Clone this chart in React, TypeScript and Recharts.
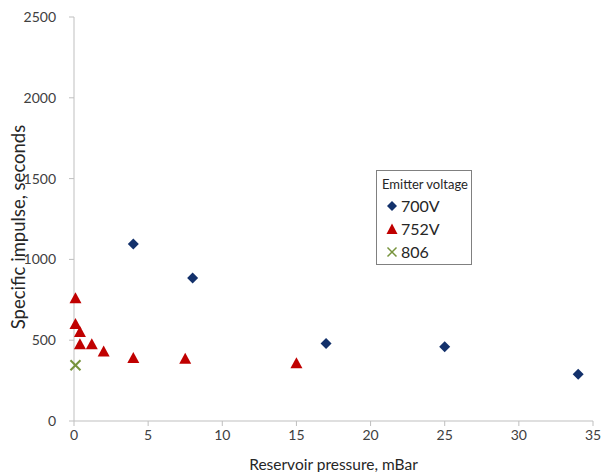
import { Label, Scatter, ScatterChart, XAxis, YAxis } from "recharts";

// Reservoir pressure (mBar) vs specific impulse (s), by emitter voltage
const pressure700 = [4, 8, 17, 25, 34];
const isp700 = [1095, 885, 480, 460, 290];

const pressure752 = [0.1, 0.1, 0.4, 0.4, 1.2, 2, 4, 7.5, 15];
const isp752 = [760, 600, 550, 475, 475, 430, 390, 385, 358];

const pressure806 = [0.1];
const isp806 = [345];

const xTicks = [0, 5, 10, 15, 20, 25, 30, 35];
const yTicks = [0, 500, 1000, 1500, 2000, 2500];

const NAVY = "#13316b";
const RED = "#c00000";
const GREEN = "#77933c";
const AXIS = "#bfbfbf";
const FONT = "Lato, 'Open Sans', sans-serif";

const zip = (xs: number[], ys: number[]) => xs.map((x, i) => ({ x, y: ys[i] }));

const Diamond = ({ cx, cy }: any) => (
  <polygon points={`${cx},${cy - 5.5} ${cx + 5.5},${cy} ${cx},${cy + 5.5} ${cx - 5.5},${cy}`} fill={NAVY} />
);

const Triangle = ({ cx, cy }: any) => (
  <polygon points={`${cx},${cy - 6} ${cx + 6},${cy + 5} ${cx - 6},${cy + 5}`} fill={RED} />
);

const Cross = ({ cx, cy }: any) => (
  <g stroke={GREEN} strokeWidth={2}>
    <line x1={cx - 5} y1={cy - 5} x2={cx + 5} y2={cy + 5} />
    <line x1={cx - 5} y1={cy + 5} x2={cx + 5} y2={cy - 5} />
  </g>
);

const LegendBox = () => {
  const items = [
    { name: "700V", shape: <polygon points="6,1 11,6 6,11 1,6" fill={NAVY} /> },
    { name: "752V", shape: <polygon points="6,0.5 11.5,11 0.5,11" fill={RED} /> },
    {
      name: "806",
      shape: (
        <g stroke={GREEN} strokeWidth={1.5}>
          <line x1={1.5} y1={1.5} x2={10.5} y2={10.5} />
          <line x1={1.5} y1={10.5} x2={10.5} y2={1.5} />
        </g>
      ),
    },
  ];
  return (
    <div
      style={{
        position: "absolute",
        left: 376,
        top: 170,
        border: "1px solid #808080",
        background: "#fff",
        width: 96,
        height: 95,
        boxSizing: "border-box",
        padding: "4px 0 0 5px",
        fontFamily: FONT,
        color: "#262626",
        whiteSpace: "nowrap",
      }}
    >
      <div style={{ fontSize: 13, lineHeight: "19px" }}>Emitter voltage</div>
      {items.map((it) => (
        <div key={it.name} style={{ display: "flex", alignItems: "center", paddingLeft: 4, height: 23 }}>
          <svg width={12} height={12} style={{ marginRight: 3 }}>
            {it.shape}
          </svg>
          <span style={{ fontSize: 16 }}>{it.name}</span>
        </div>
      ))}
    </div>
  );
};

export default function App() {
  return (
    <div style={{ position: "absolute", left: 0, top: 0, width: 601, height: 472, background: "#fff" }}>
      <ScatterChart width={601} height={472} margin={{ top: 17, right: 8, bottom: 0, left: 0 }}>
        <XAxis
          type="number"
          dataKey="x"
          domain={[0, 35]}
          ticks={xTicks}
          height={51}
          stroke={AXIS}
          tickSize={5}
          tickMargin={4}
          tick={{ fontSize: 14, fill: "#404040", fontFamily: FONT }}
        >
          <Label
            value="Reservoir pressure, mBar"
            position="insideBottom"
            offset={2}
            style={{ fontSize: 15.5, fill: "#262626", fontFamily: FONT }}
          />
        </XAxis>
        <YAxis
          type="number"
          dataKey="y"
          domain={[0, 2500]}
          ticks={yTicks}
          width={74}
          stroke={AXIS}
          tickSize={5}
          tickMargin={13}
          tick={{ fontSize: 14, fill: "#404040", fontFamily: FONT }}
        >
          <Label
            content={({ viewBox }: any) => {
              const cy = viewBox.y + viewBox.height / 2 + 8;
              return (
                <text
                  x={18}
                  y={cy}
                  transform={`rotate(-90, 18, ${cy})`}
                  textAnchor="middle"
                  dominantBaseline="central"
                  style={{ fontSize: 18.5, fill: "#262626", fontFamily: FONT }}
                >
                  Specific impulse, seconds
                </text>
              );
            }}
          />
        </YAxis>
        <Scatter name="700V" data={zip(pressure700, isp700)} shape={<Diamond />} isAnimationActive={false} />
        <Scatter name="752V" data={zip(pressure752, isp752)} shape={<Triangle />} isAnimationActive={false} />
        <Scatter name="806" data={zip(pressure806, isp806)} shape={<Cross />} isAnimationActive={false} />
      </ScatterChart>
      <LegendBox />
    </div>
  );
}
